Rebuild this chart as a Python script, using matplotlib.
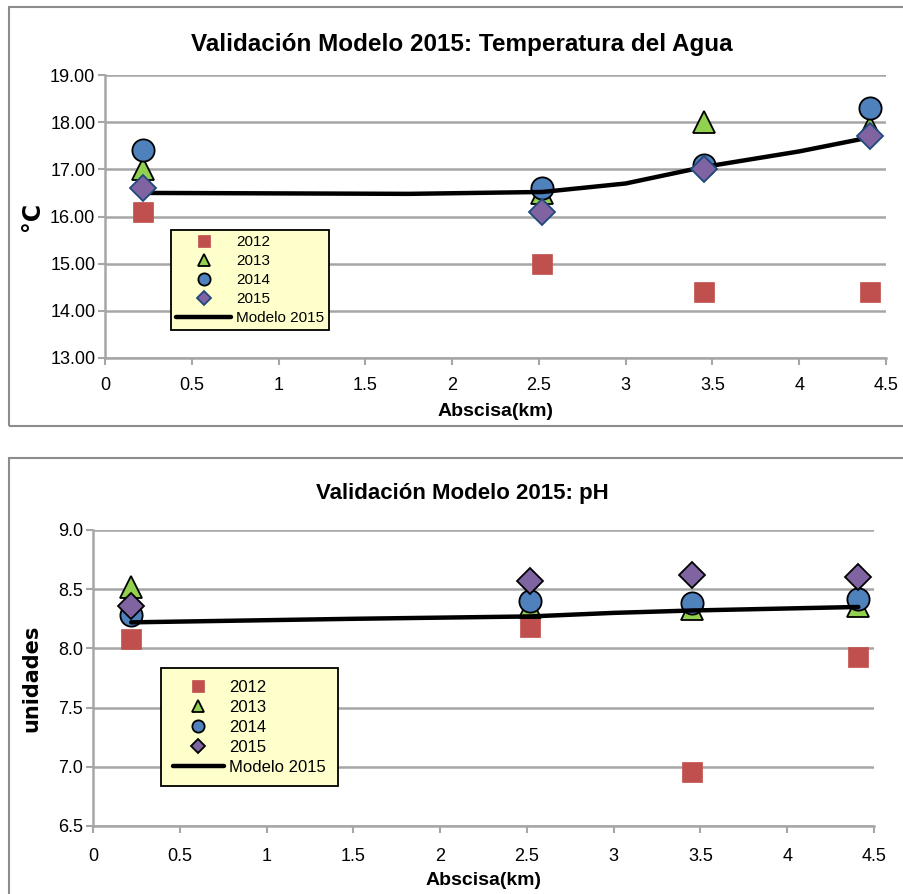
import matplotlib
matplotlib.use("Agg")
import matplotlib.pyplot as plt
from matplotlib.patches import Rectangle
from matplotlib import font_manager

names = {f.name for f in font_manager.fontManager.ttflist}
NARROW = "Liberation Sans Narrow" if "Liberation Sans Narrow" in names else "Liberation Sans"
plt.rcParams["font.family"] = [NARROW, "DejaVu Sans"]

# Sampling stations (km)
abscisa = [0.22, 2.52, 3.45, 4.41]

# Water temperature (°C)
temp_2012 = [16.1, 15.0, 14.4, 14.4]
temp_2013 = [17.0, 16.5, 18.0, 17.9]
temp_2014 = [17.4, 16.6, 17.1, 18.3]
temp_2015 = [16.6, 16.1, 17.0, 17.7]
temp_model_x = [0.22, 1.0, 1.75, 2.52, 3.0, 3.45, 4.0, 4.41]
temp_model = [16.50, 16.49, 16.48, 16.52, 16.70, 17.05, 17.38, 17.68]

# pH (units)
ph_2012 = [8.08, 8.18, 6.96, 7.93]
ph_2013 = [8.52, 8.35, 8.33, 8.36]
ph_2014 = [8.28, 8.40, 8.38, 8.42]
ph_2015 = [8.36, 8.57, 8.62, 8.60]
ph_model_x = [0.22, 1.5, 2.52, 3.0, 3.45, 4.41]
ph_model = [8.22, 8.25, 8.27, 8.30, 8.32, 8.35]

x_ticks = [0, 0.5, 1, 1.5, 2, 2.5, 3, 3.5, 4, 4.5]
x_tick_labels = ["0", "0.5", "1", "1.5", "2", "2.5", "3", "3.5", "4", "4.5"]
temp_ticks = [13, 14, 15, 16, 17, 18, 19]
ph_ticks = [6.5, 7.0, 7.5, 8.0, 8.5, 9.0]

RED = "#C0504D"
GREEN = "#92D050"
BLUE = "#4F81BD"
PURPLE = "#8064A2"
GRID = "#A6A6A6"

fig = plt.figure(figsize=(9.04, 8.94), dpi=100)
W, H = 904, 894


def fx(px):
    return px / W


def fy(py):
    return 1 - py / H


# Chart frames
for (x0, y0, x1, y1) in [(9, 7, 906, 426), (9, 458, 906, 900)]:
    fig.patches.append(Rectangle((fx(x0), fy(y1)), fx(x1 - x0), (y1 - y0) / H,
                                 transform=fig.transFigure, fill=False,
                                 edgecolor="#8C8C8C", linewidth=1.5))


def style_axes(ax, yticks, ylabels, xlim, ylim, xpad):
    ax.set_xlim(*xlim)
    ax.set_ylim(*ylim)
    ax.set_xticks(x_ticks)
    ax.set_xticklabels(x_tick_labels, fontsize=13)
    ax.set_yticks(yticks)
    ax.set_yticklabels(ylabels, fontsize=13)
    ax.grid(axis="y", color=GRID, linewidth=1.8)
    ax.set_axisbelow(True)
    for s in ["top", "right"]:
        ax.spines[s].set_visible(False)
    for s in ["left", "bottom"]:
        ax.spines[s].set_color(GRID)
        ax.spines[s].set_linewidth(1.8)
    ax.tick_params(axis="both", color=GRID, width=1.5, length=5, direction="out")
    ax.tick_params(axis="y", pad=2)
    ax.tick_params(axis="x", pad=xpad)


def draw(ax, x, s12, s13, s14, s15, mx, mv, dia_edge):
    ax.plot(x, s12, ls="none", marker="s", ms=14.5, mfc=RED, mec=RED, mew=0.5,
            label="2012", zorder=3)
    ax.plot(x, s13, ls="none", marker="^", ms=16, mfc=GREEN, mec="black", mew=1.3,
            label="2013", zorder=4)
    ax.plot(x, s14, ls="none", marker="o", ms=16, mfc=BLUE, mec="black", mew=1.3,
            label="2014", zorder=5)
    ax.plot(mx, mv, color="black", lw=3.2, label="Modelo 2015", zorder=6,
            solid_capstyle="round")
    ax.plot(x, s15, ls="none", marker="D", ms=13, mfc=PURPLE, mec=dia_edge, mew=1.3,
            label="2015", zorder=7)


def legend(ax, bbox, fontsize, spacing, borderpad, handlelength):
    h, l = ax.get_legend_handles_labels()
    order = ["2012", "2013", "2014", "2015", "Modelo 2015"]
    hd = {lab: hh for hh, lab in zip(h, l)}
    leg = ax.legend([hd[k] for k in order], order, loc="upper left",
                    bbox_to_anchor=bbox, bbox_transform=fig.transFigure,
                    frameon=True, fancybox=False, facecolor="#FFFFCC",
                    edgecolor="black", framealpha=1, fontsize=fontsize,
                    handlelength=handlelength, handletextpad=0.3,
                    labelspacing=spacing, borderpad=borderpad, borderaxespad=0,
                    markerscale=0.55)
    leg.get_frame().set_linewidth(1.3)
    return leg


# --- Temperature chart ---
ax1 = fig.add_axes([fx(105), fy(358), fx(886 - 105), (358 - 75) / H])
style_axes(ax1, temp_ticks, [f"{v:.2f}" for v in temp_ticks], (0, 4.5), (13, 19), 9)
draw(ax1, abscisa, temp_2012, temp_2013, temp_2014, temp_2015,
     temp_model_x, temp_model, "#1F497D")
legend(ax1, (fx(171), fy(230)), 11, 0.32, 0.35, 3.6)
ax1.set_xlabel("Abscisa(km)", fontsize=14, fontweight="bold", labelpad=6)
ax1.set_ylabel("°C", fontsize=17, fontweight="bold", family="DejaVu Sans", labelpad=4)
fig.text(fx(462), fy(45), "Validación Modelo 2015: Temperatura del Agua",
         ha="center", va="center", fontsize=17.5, fontweight="bold")

# --- pH chart ---
ax2 = fig.add_axes([fx(93), fy(826), fx(874 - 93), (826 - 530) / H])
style_axes(ax2, ph_ticks, [f"{v:.1f}" for v in ph_ticks], (0, 4.5), (6.5, 9.0), 11)
draw(ax2, abscisa, ph_2012, ph_2013, ph_2014, ph_2015,
     ph_model_x, ph_model, "black")
legend(ax2, (fx(161), fy(668)), 12, 0.3, 0.7, 3.1)
ax2.set_xlabel("Abscisa(km)", fontsize=14, fontweight="bold", labelpad=5)
ax2.set_ylabel("unidades", fontsize=15, fontweight="bold", family="DejaVu Sans",
               labelpad=12)
fig.text(fx(462), fy(493), "Validación Modelo 2015: pH",
         ha="center", va="center", fontsize=16, fontweight="bold")

fig.savefig("out.png", dpi=100)
